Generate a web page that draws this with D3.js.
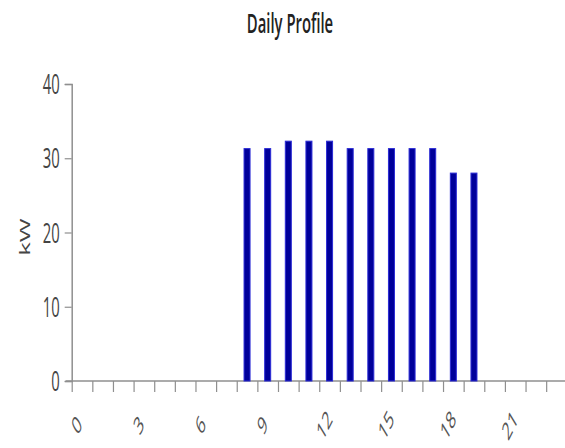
<!DOCTYPE html>
<html>
<head>
<meta charset="utf-8">
<script src="https://cdn.jsdelivr.net/npm/d3@7"></script>
<style>
  html, body { margin: 0; padding: 0; background: #fff; }
  svg { display: block; }
  text { font-family: "Open Sans", "Noto Sans", sans-serif; fill: #333; }
</style>
</head>
<body>
<svg id="chart" width="565" height="448"></svg>
<script>
const title = "Daily Profile";
const yLabel = "kW";
const hours = d3.range(0, 24);
const values = [0, 0, 0, 0, 0, 0, 0, 0,
                31.3, 31.3, 32.3, 32.3, 32.3, 31.3, 31.3, 31.3, 31.3, 31.3, 28, 28,
                0, 0, 0, 0];
const yTicks = [0, 10, 20, 30, 40];
const xTickLabels = [0, 3, 6, 9, 12, 15, 18, 21];

const svg = d3.select("#chart");
const SX = 0.55; // horizontal squash of text seen in reference

const x = d3.scaleLinear().domain([0, 24]).range([71.7, 566.8]);
const y = d3.scaleLinear().domain([0, 40]).range([381, 84]);
const axisColor = "#8f8f8f";

// title
svg.append("text")
  .attr("transform", `translate(290,33) scale(${SX},1)`)
  .attr("text-anchor", "middle")
  .style("font-size", "27px")
  .style("font-weight", 600)
  .style("fill", "#222")
  .text(title);

// y axis
const yAxis = svg.append("g").attr("transform", `translate(${x(0)},0)`)
  .call(d3.axisLeft(y).tickValues(yTicks).tickSize(7).tickFormat(d3.format("d")));
yAxis.select(".domain").attr("stroke", axisColor).attr("stroke-width", 1.5);
yAxis.selectAll(".tick line").attr("stroke", axisColor).attr("stroke-width", 1.2);
yAxis.selectAll(".tick text").remove();
yAxis.selectAll(".tick").append("text")
  .attr("transform", `translate(-12,0) scale(${SX},1)`)
  .attr("text-anchor", "end")
  .attr("dy", "0.36em")
  .style("font-size", "27px")
  .style("fill", "#444")
  .text(d => d);

// x axis
const xAxis = svg.append("g").attr("transform", `translate(0,${y(0)})`)
  .call(d3.axisBottom(x).tickValues(hours).tickSize(11).tickSizeOuter(0).tickFormat(""));
xAxis.select(".domain").attr("stroke", axisColor).attr("stroke-width", 1.5)
  .attr("d", `M${x(0) - 6},0H${x(24)}`);
xAxis.selectAll(".tick line").attr("stroke", axisColor).attr("stroke-width", 1.2);

svg.append("g").selectAll("text")
  .data(xTickLabels)
  .join("text")
  .attr("transform", d => `translate(${x(d) + 5},425) scale(${SX},1) rotate(-48)`)
  .attr("text-anchor", "middle")
  .attr("dy", "0.36em")
  .style("font-size", "25px")
  .style("fill", "#555")
  .text(d => d);

// y label
svg.append("text")
  .attr("transform", `translate(25,237) scale(${SX},1) rotate(-90)`)
  .attr("text-anchor", "middle")
  .attr("dy", "0.36em")
  .style("font-size", "26px")
  .style("fill", "#444")
  .text(yLabel);

// bars
const barW = 6;
svg.append("g").selectAll("rect")
  .data(hours.map((h, i) => ({ h, v: values[i] })).filter(d => d.v > 0))
  .join("rect")
  .attr("x", d => x(d.h + 0.5) - barW / 2)
  .attr("width", barW)
  .attr("y", d => y(d.v))
  .attr("height", d => y(0) - y(d.v))
  .attr("fill", "#00009a")
  .attr("stroke", "#2b2bd6")
  .attr("stroke-width", 1);
</script>
</body>
</html>
